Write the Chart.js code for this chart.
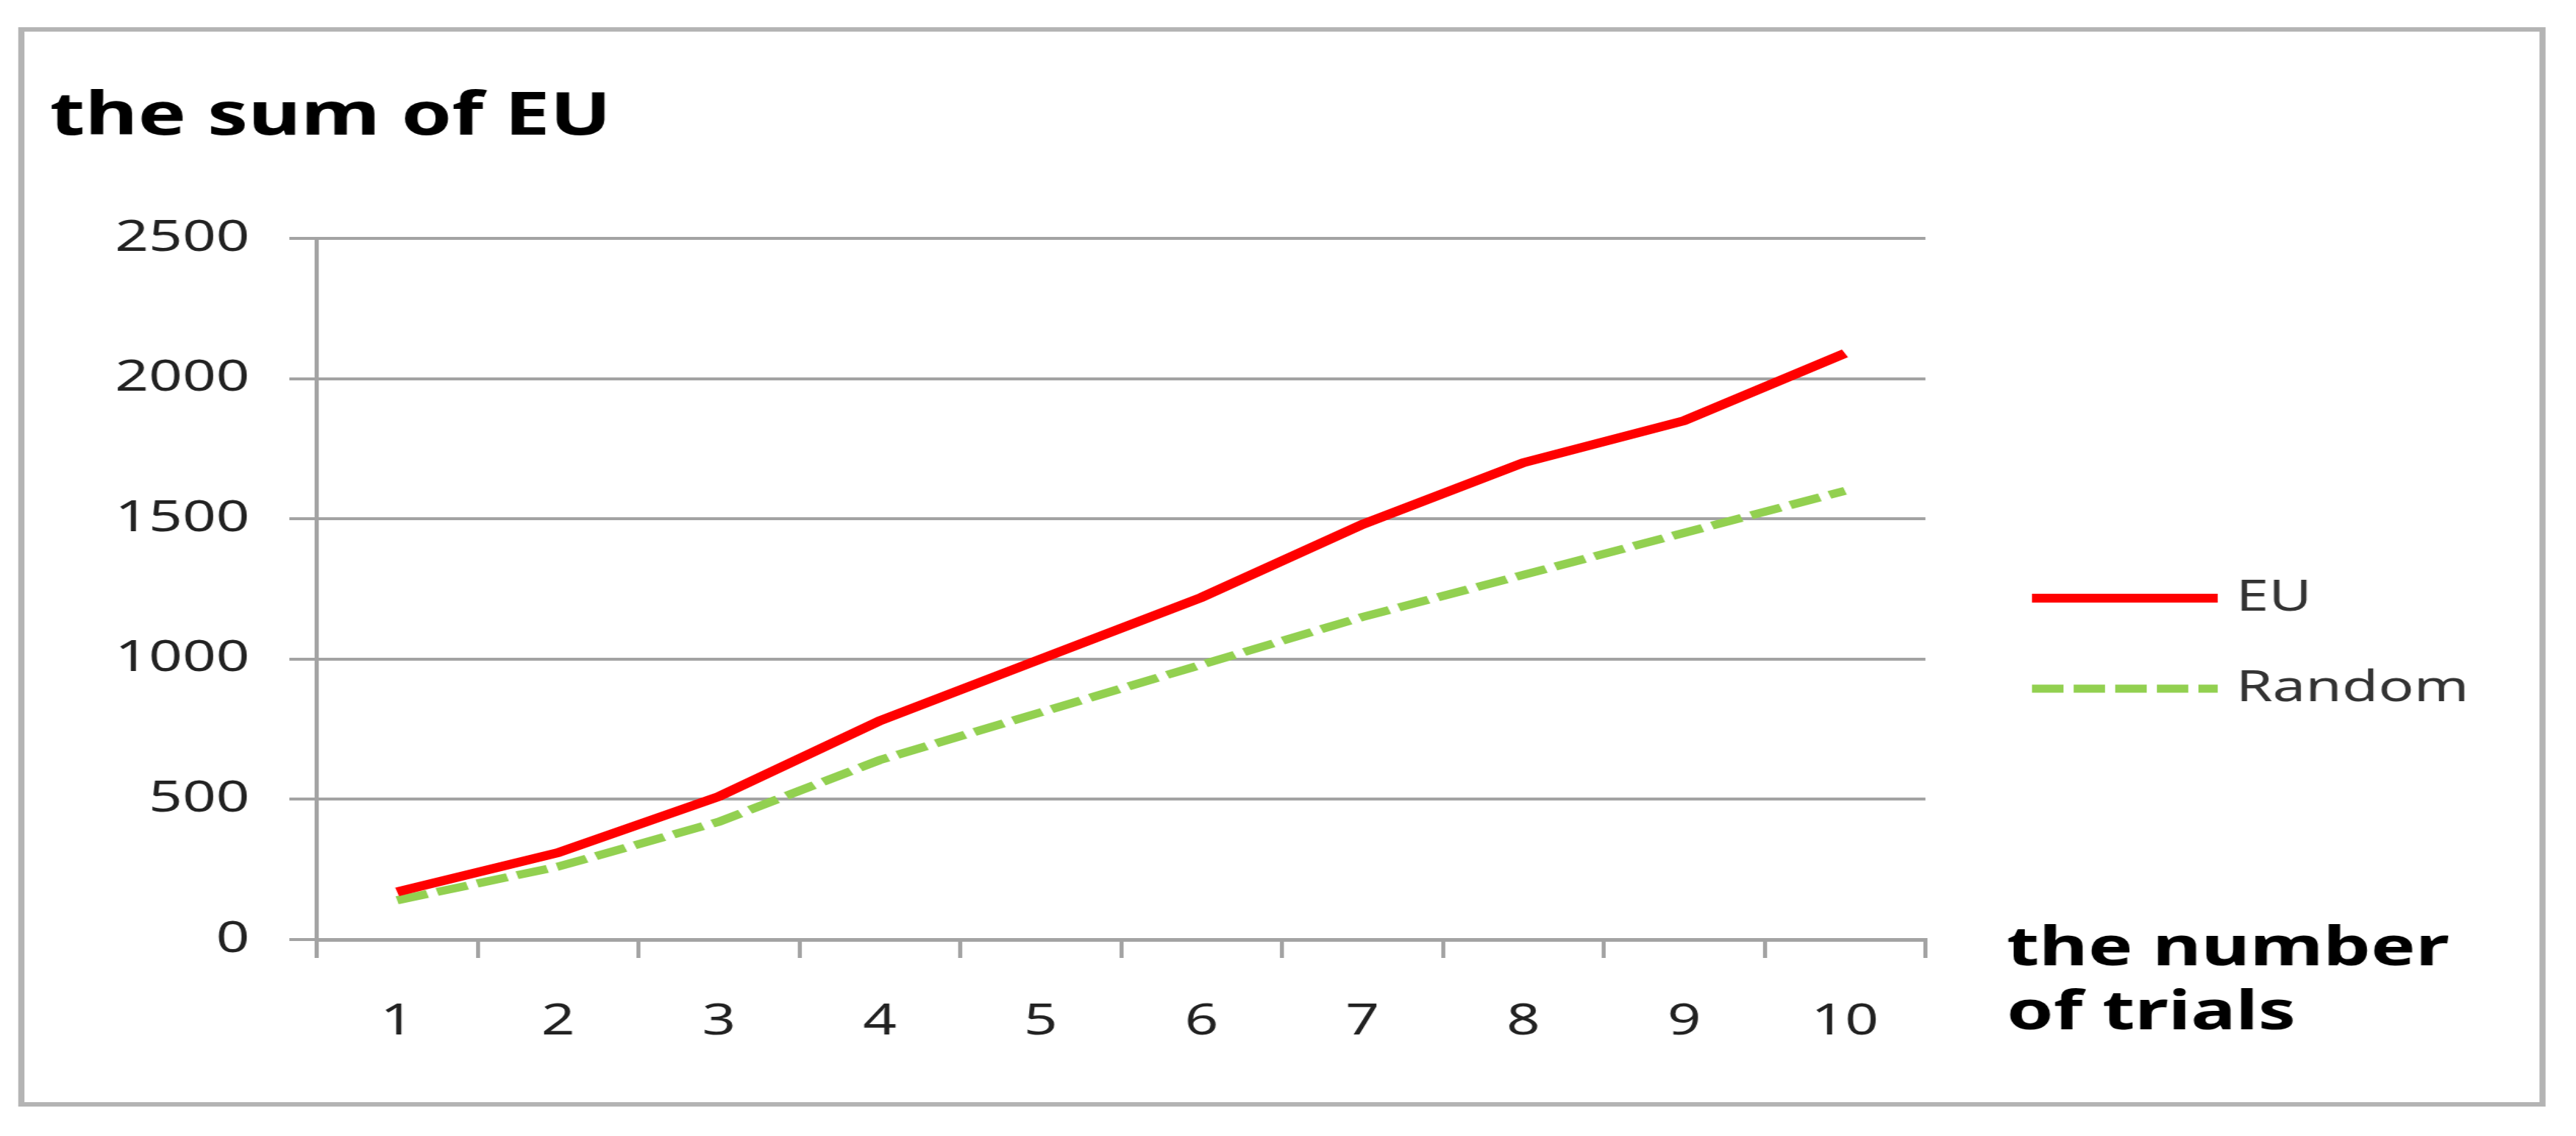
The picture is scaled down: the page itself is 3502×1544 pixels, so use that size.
<!DOCTYPE html>
<html>
<head>
<meta charset="utf-8">
<script src="https://cdn.jsdelivr.net/npm/chart.js@4.4.1/dist/chart.umd.min.js"></script>
<style>
  html, body { margin: 0; padding: 0; background: #fff; }
</style>
</head>
<body>
<!-- the reference is stretched sideways, so the canvas is drawn narrower and widened by its inline style -->
<canvas id="myChart" width="2538" height="1544" style="display:block;width:3502px;height:1544px"></canvas>
<script>
const trials = ['1', '2', '3', '4', '5', '6', '7', '8', '9', '10'];
const euSum = [170, 310, 510, 780, 1000, 1220, 1480, 1700, 1850, 2090];
const randomSum = [140, 260, 420, 640, 810, 980, 1150, 1300, 1450, 1600];
const seriesNames = ['EU', 'Random'];
const yMin = 0, yMax = 2500, yStep = 500;
const yTitle = 'the sum of EU';
const xTitle = ['the number', 'of trials'];

const gridColor = '#a3a3a3';
const textFont = '"Noto Sans", "DejaVu Sans", sans-serif';

// outer frame, titles and the legend on the right
const decorations = {
    id: 'decorations',
    afterDraw(chart) {
        const ctx = chart.ctx;
        const area = chart.chartArea;
        ctx.save();
        ctx.strokeStyle = '#b4b4b4';
        ctx.lineWidth = 6;
        ctx.strokeRect(21, 40, 2484, 1461);

        ctx.fillStyle = '#000';
        ctx.font = 'bold 80px ' + textFont;
        ctx.textAlign = 'left';
        ctx.textBaseline = 'alphabetic';
        ctx.fillText(yTitle, 49, 183);
        ctx.font = 'bold 74px ' + textFont;
        ctx.textBaseline = 'middle';
        ctx.fillText(xTitle[0], area.right + 80, area.bottom + 14);
        ctx.fillText(xTitle[1], area.right + 80, area.bottom + 101);

        ctx.font = '58px ' + textFont;
        chart.data.datasets.forEach((ds, i) => {
            const y = 813 + i * 123;
            ctx.beginPath();
            ctx.strokeStyle = ds.borderColor;
            ctx.lineWidth = ds.borderWidth;
            ctx.setLineDash(ds.borderDash || []);
            ctx.moveTo(area.right + 105, y);
            ctx.lineTo(area.right + 288, y);
            ctx.stroke();
            ctx.setLineDash([]);
            ctx.fillStyle = '#333';
            ctx.fillText(ds.label, area.right + 306, y);
        });
        ctx.restore();
    }
};

new Chart(document.getElementById('myChart'), {
    type: 'line',
    data: {
        labels: trials,
        datasets: [{
            label: seriesNames[0],
            data: euSum,
            borderColor: '#ff0000',
            borderWidth: 12,
            pointRadius: 0,
            tension: 0
        }, {
            label: seriesNames[1],
            data: randomSum,
            borderColor: '#92d050',
            borderWidth: 11,
            borderDash: [31, 10],
            pointRadius: 0,
            tension: 0
        }]
    },
    options: {
        responsive: false,
        animation: false,
        layout: { padding: { left: 60, top: 324, right: 641, bottom: 117 } },
        plugins: {
            legend: { display: false },
            tooltip: { enabled: false }
        },
        scales: {
            x: {
                offset: true,
                grid: {
                    offset: true,
                    drawOnChartArea: false,
                    color: gridColor,
                    lineWidth: 4,
                    tickLength: 25,
                    tickWidth: 4
                },
                border: { color: gridColor, width: 5 },
                ticks: {
                    color: '#222',
                    font: { size: 58, family: textFont },
                    padding: 53,
                    maxRotation: 0
                },
                afterFit(scale) { scale.height = 150; }
            },
            y: {
                min: yMin,
                max: yMax,
                ticks: {
                    stepSize: yStep,
                    color: '#222',
                    font: { size: 58, family: textFont },
                    padding: 39,
                    callback: (value) => String(value)
                },
                grid: {
                    color: gridColor,
                    lineWidth: 4,
                    tickLength: 27
                },
                border: { color: gridColor, width: 4 },
                afterFit(scale) { scale.width = 252; }
            }
        }
    },
    plugins: [decorations]
});
</script>
</body>
</html>
